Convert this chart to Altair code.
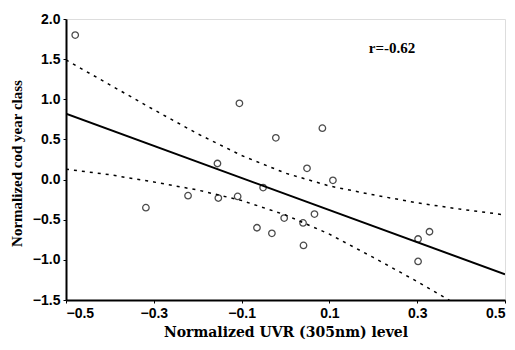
import altair as alt
import pandas as pd

uvr = [-0.479, -0.318, -0.222, -0.155, -0.153, -0.109, -0.105, -0.065, -0.051,
       -0.031, -0.022, -0.003, 0.040, 0.041, 0.049, 0.066, 0.084, 0.108,
       0.302, 0.302, 0.328]
cod = [1.80, -0.35, -0.20, 0.20, -0.23, -0.21, 0.95, -0.60, -0.10,
       -0.67, 0.52, -0.48, -0.54, -0.82, 0.14, -0.43, 0.64, -0.01,
       -0.74, -1.02, -0.65]

# Regression line (read endpoints)
fit_x = [-0.5, 0.5]
fit_y = [0.82, -1.18]

# Confidence band
band_x = [-0.5, -0.4, -0.3, -0.2, -0.1, 0.0, 0.1, 0.2, 0.3, 0.4, 0.5]
band_up = [1.49, 1.18, 0.87, 0.57, 0.30, 0.08, -0.08, -0.19, -0.29, -0.37, -0.44]
band_lo = [0.13, 0.06, -0.03, -0.13, -0.26, -0.44, -0.68, -0.97, -1.27, -1.59, -1.91]

x_ticks = [-0.5, -0.3, -0.1, 0.1, 0.3, 0.5]
y_ticks = [-1.5, -1.0, -0.5, 0.0, 0.5, 1.0, 1.5, 2.0]

pts = pd.DataFrame({"x": uvr, "y": cod})
fit = pd.DataFrame({"x": fit_x, "y": fit_y})
band = pd.concat([
    pd.DataFrame({"x": band_x, "y": band_up, "s": "up"}),
    pd.DataFrame({"x": band_x, "y": band_lo, "s": "lo"}),
])

xscale = alt.Scale(domain=[-0.5, 0.5], nice=False, zero=False)
yscale = alt.Scale(domain=[-1.5, 2.0], nice=False, zero=False)

xaxis = alt.Axis(values=x_ticks, format=".1f", title="Normalized UVR (305nm) level",
                 grid=False, domainColor="black", domainWidth=2,
                 tickColor="black", tickSize=3,
                 labelFont="Liberation Sans", labelFontWeight="bold", labelFontSize=14,
                 labelColor="black", labelPadding=3,
                 titleFont="DejaVu Serif", titleFontWeight="bold", titleFontSize=14,
                 titleColor="black", titlePadding=5)
yaxis = alt.Axis(values=y_ticks, format=".1f", title="Normalized cod year class",
                 grid=False, domainColor="black", domainWidth=2,
                 tickColor="black", tickSize=3,
                 labelFont="Liberation Sans", labelFontWeight="bold", labelFontSize=14,
                 labelColor="black", labelPadding=3,
                 titleFont="Liberation Serif", titleFontWeight="bold", titleFontSize=15,
                 titleColor="black", titlePadding=8, titleY=144)

points = alt.Chart(pts).mark_point(shape="circle", filled=False, color="black",
                                   size=42, strokeWidth=1.3).encode(
    x=alt.X("x:Q", scale=xscale, axis=xaxis),
    y=alt.Y("y:Q", scale=yscale, axis=yaxis),
)

line = alt.Chart(fit).mark_line(color="black", strokeWidth=2, clip=True).encode(
    x=alt.X("x:Q", scale=xscale),
    y=alt.Y("y:Q", scale=yscale),
)

bands = alt.Chart(band).mark_line(color="black", strokeWidth=1.5, strokeDash=[3, 5],
                                  clip=True).encode(
    x=alt.X("x:Q", scale=xscale),
    y=alt.Y("y:Q", scale=yscale),
    detail="s:N",
)

label = alt.Chart(pd.DataFrame({"t": ["r=-0.62"]})).mark_text(
    font="Liberation Serif", fontWeight="bold", fontSize=15, color="black",
    align="center", baseline="middle").encode(
    text="t:N", x=alt.value(326), y=alt.value(29))

chart = alt.layer(bands, line, points, label).properties(
    width=439, height=281,
    padding={"left": 66, "top": 19, "right": 10, "bottom": 50},
    autosize=alt.AutoSizeParams(type="none"),
).configure_view(stroke="black", strokeWidth=2).configure(background="white")

chart.save("out.html", embed_options={"renderer": "svg", "actions": False})
